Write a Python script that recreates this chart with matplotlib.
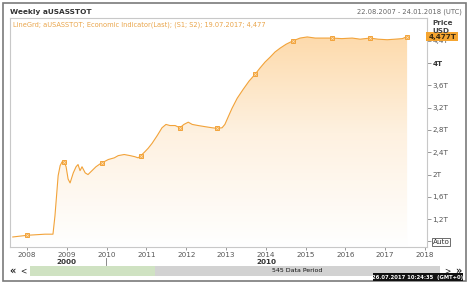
import numpy as np
import matplotlib
matplotlib.use("Agg")
import matplotlib.pyplot as plt
from matplotlib.patches import Rectangle
from matplotlib.colors import LinearSegmentedColormap
import matplotlib.transforms as mtransforms

# Weekly aUSASSTOT (decimal year, trillion USD)
dates = [2007.64, 2008.00, 2008.45, 2008.65, 2008.70, 2008.78, 2008.83, 2008.88,
         2008.93, 2008.98, 2009.03, 2009.08, 2009.16, 2009.23, 2009.28, 2009.33,
         2009.38, 2009.46, 2009.53, 2009.63, 2009.73, 2009.83, 2009.88, 2010.04,
         2010.19, 2010.29, 2010.44, 2010.59, 2010.71, 2010.79, 2010.86, 2010.96,
         2011.04, 2011.14, 2011.27, 2011.39, 2011.49, 2011.59, 2011.72, 2011.84,
         2011.94, 2012.05, 2012.15, 2012.30, 2012.47, 2012.65, 2012.77, 2012.90,
         2012.97, 2013.05, 2013.15, 2013.28, 2013.43, 2013.58, 2013.73, 2013.85,
         2013.98, 2014.11, 2014.23, 2014.36, 2014.51, 2014.68, 2014.86, 2015.04,
         2015.24, 2015.41, 2015.66, 2015.91, 2016.17, 2016.37, 2016.62, 2016.82,
         2017.05, 2017.25, 2017.43, 2017.55]
values = [0.88, 0.91, 0.93, 0.93, 1.26, 1.98, 2.16, 2.23,
          2.23, 2.14, 1.92, 1.85, 2.03, 2.14, 2.18, 2.07,
          2.14, 2.03, 2.00, 2.07, 2.14, 2.19, 2.21, 2.27,
          2.30, 2.34, 2.36, 2.34, 2.32, 2.30, 2.34, 2.41,
          2.47, 2.56, 2.70, 2.84, 2.90, 2.88, 2.88, 2.84,
          2.90, 2.94, 2.90, 2.88, 2.86, 2.84, 2.83, 2.84,
          2.90, 3.03, 3.19, 3.37, 3.53, 3.68, 3.80, 3.91,
          4.02, 4.11, 4.20, 4.27, 4.34, 4.40, 4.45, 4.47,
          4.45, 4.45, 4.45, 4.44, 4.45, 4.43, 4.45, 4.43,
          4.42, 4.43, 4.44, 4.477]

# marker points on the line
marker_dates = [2008.00, 2008.93, 2009.88, 2010.86, 2011.84, 2012.77,
                2013.73, 2014.68, 2015.66, 2016.62, 2017.55]
marker_values = [0.91, 2.23, 2.21, 2.34, 2.84, 2.83,
                 3.80, 4.40, 4.45, 4.45, 4.477]

year_ticks = [2008, 2009, 2010, 2011, 2012, 2013, 2014, 2015, 2016, 2017, 2018]
price_ticks = [0.8, 1.2, 1.6, 2.0, 2.4, 2.8, 3.2, 3.6, 4.0, 4.4]
price_labels = ["Auto", "1,2T", "1,6T", "2T", "2,4T", "2,8T", "3,2T", "3,6T", "4T", "4,4T"]
last_value = 4.477

LINE = "#F2A33A"
TXT = "#555555"
W, H = 469, 284

plt.rcParams['font.family'] = ['DejaVu Sans']

fig = plt.figure(figsize=(W / 100, H / 100), dpi=100)
fig.patch.set_facecolor("white")


def px(x0, y0, x1, y1):
    """pixel box -> figure fraction rect"""
    return [x0 / W, 1 - y1 / H, (x1 - x0) / W, (y1 - y0) / H]


def fx(x):
    return x / W


def fy(y):
    return 1 - y / H


# outer widget frame
fig.patches.append(Rectangle((fx(3), fy(281)), fx(463), 278 / H, transform=fig.transFigure,
                             fill=False, edgecolor="#7a7a7a", linewidth=1.2))

ax = fig.add_axes(px(10, 18, 427, 247))
ax.set_xlim(2007.57, 2018.05)
ax.set_ylim(0.70, 4.81)

# gradient fill under the line
cmap = LinearSegmentedColormap.from_list("fade", ["#FFFFFF", "#FEF1E0", "#FDD6A2"])
grad = np.linspace(0, 1, 256).reshape(-1, 1)
poly = ax.fill_between(dates, values, 0.70, color="none", linewidth=0)
img = ax.imshow(grad, aspect="auto", cmap=cmap, origin="lower",
                extent=[2007.57, 2018.05, 0.70, 4.81], zorder=1)
img.set_clip_path(poly.get_paths()[0], transform=ax.transData)

ax.plot(dates, values, color=LINE, linewidth=0.8, zorder=3)
ax.plot(marker_dates, marker_values, linestyle="none", marker="s", markersize=3.4,
        markerfacecolor="#FDE3BC", markeredgecolor=LINE, markeredgewidth=0.7, zorder=4)
ax.plot(marker_dates, marker_values, linestyle="none", marker="o", markersize=1.5,
        markerfacecolor="none", markeredgecolor=LINE, markeredgewidth=0.5, zorder=5)

for s in ax.spines.values():
    s.set_color("#c8c8c8")
    s.set_linewidth(0.8)

ax.set_xticks(year_ticks)
ax.set_xticklabels([str(y) for y in year_ticks])
ax.tick_params(axis="x", length=2, width=0.6, color="#888888", labelsize=5.2,
               labelcolor=TXT, pad=1.5)
ax.yaxis.tick_right()
ax.set_yticks(price_ticks)
ax.set_yticklabels(price_labels)
ax.tick_params(axis="y", length=3, width=0.6, color="#888888", labelsize=5.2,
               labelcolor=TXT, pad=1)
for lab in ax.get_yticklabels():
    if lab.get_text() == "4T":
        lab.set_fontweight("bold")
        lab.set_color("#333333")
    if lab.get_text() == "Auto":
        lab.set_color("#333333")
        lab.set_bbox(dict(boxstyle="square,pad=0.1", facecolor="white",
                          edgecolor="#555555", linewidth=0.6))

# series caption inside the plot
ax.text(0.008, 0.985, "LineGrd; aUSASSTOT; Economic Indicator(Last); (S1; S2); 19.07.2017; 4,477",
        transform=ax.transAxes, ha="left", va="top", fontsize=4.75, color="#E9A449")

# last value tag on the price scale
trans = mtransforms.blended_transform_factory(ax.transAxes, ax.transData)
ax.text(1.003, last_value, "4,477T", transform=trans, ha="left", va="center",
        fontsize=5.2, fontweight="bold", color="#3a2a10", zorder=10, clip_on=False,
        bbox=dict(boxstyle="square,pad=0.25", facecolor="#F5A530", edgecolor="none"))

# header
fig.text(fx(10), fy(12), "Weekly aUSASSTOT", ha="left", va="center",
         fontsize=5.3, fontweight="bold", color="#333333")
fig.text(fx(462), fy(12), "22.08.2007 - 24.01.2018 (UTC)", ha="right", va="center",
         fontsize=4.9, color="#666666")
fig.text(fx(432), fy(23), "Price", ha="left", va="center", fontsize=5.2,
         fontweight="bold", color="#444444")
fig.text(fx(432), fy(31), "USD", ha="left", va="center", fontsize=5.2,
         fontweight="bold", color="#444444")

# decade labels under the time axis
fig.text(fx(66), fy(262), "2000", ha="center", va="center", fontsize=5.2,
         fontweight="bold", color="#333333")
fig.text(fx(266), fy(262), "2010", ha="center", va="center", fontsize=5.2,
         fontweight="bold", color="#333333")
fig.lines.append(plt.Line2D([fx(106), fx(106)], [fy(258), fy(265)],
                            transform=fig.transFigure, color="#777777", linewidth=0.6))

# navigation bar
fig.patches.append(Rectangle((fx(155), fy(276)), fx(285), 10 / H, transform=fig.transFigure,
                             facecolor="#d2d2d2", edgecolor="none"))
fig.patches.append(Rectangle((fx(30), fy(276)), fx(125), 10 / H, transform=fig.transFigure,
                             facecolor="#cfe2c2", edgecolor="none"))
fig.text(fx(297), fy(271), "545 Data Period", ha="center", va="center",
         fontsize=4.5, color="#111111")
fig.text(fx(12), fy(271), "\u00ab", ha="center", va="center", fontsize=7,
         fontweight="bold", color="#222222")
fig.text(fx(23), fy(271), "<", ha="center", va="center", fontsize=5.5, color="#222222")
fig.text(fx(447), fy(271), ">", ha="center", va="center", fontsize=5.5, color="#222222")
fig.text(fx(458), fy(271), "\u00bb", ha="center", va="center", fontsize=7,
         fontweight="bold", color="#222222")
fig.patches.append(Rectangle((fx(373), fy(281)), fx(90), 8 / H, transform=fig.transFigure,
                             facecolor="#111111", edgecolor="none", zorder=5))
fig.text(fx(418), fy(277), "26.07.2017 10:24:35  (GMT+0)", ha="center", va="center",
         fontsize=3.8, fontweight="bold", color="white", zorder=6)

fig.savefig("out.png", dpi=100)
